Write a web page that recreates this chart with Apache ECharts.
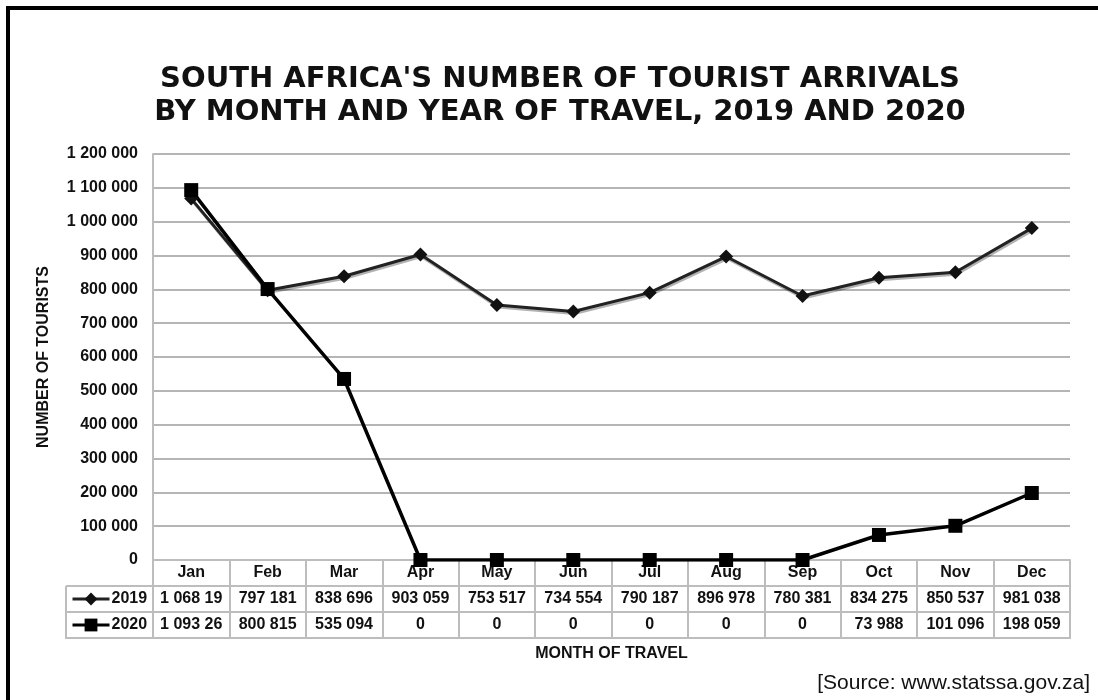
<!DOCTYPE html>
<html>
<head>
<meta charset="utf-8">
<script src="https://cdn.jsdelivr.net/npm/echarts@6/dist/echarts.min.js"></script>
<style>
  html, body { margin: 0; padding: 0; background: #fff; }
  #chart { width: 1098px; height: 700px; }
</style>
</head>
<body>
<div id="chart"></div>
<script>
// months on the x axis
var months = ["Jan", "Feb", "Mar", "Apr", "May", "Jun", "Jul", "Aug", "Sep", "Oct", "Nov", "Dec"];

// tourist arrivals
var arrivals2019 = [1068190, 797181, 838696, 903059, 753517, 734554, 790187, 896978, 780381, 834275, 850537, 981038];
var arrivals2020 = [1093260, 800815, 535094, 0, 0, 0, 0, 0, 0, 73988, 101096, 198059];

// data table text, as printed under the axis (Jan is cut off in the source)
var table2019 = ["1 068 19", "797 181", "838 696", "903 059", "753 517", "734 554", "790 187", "896 978", "780 381", "834 275", "850 537", "981 038"];
var table2020 = ["1 093 26", "800 815", "535 094", "0", "0", "0", "0", "0", "0", "73 988", "101 096", "198 059"];

// y axis tick labels
var yTicks = ["0", "100 000", "200 000", "300 000", "400 000", "500 000", "600 000",
  "700 000", "800 000", "900 000", "1 000 000", "1 100 000", "1 200 000"];

var FONT = '"Liberation Sans", Arial, sans-serif';
var GRID_L = 153, GRID_R = 1070, GRID_T = 154, GRID_B = 560;
var ROW = 26;
var TABLE_L = 66;
var cellLine = { stroke: "#bdbdbd", lineWidth: 2 };

var myChart = echarts.init(document.getElementById("chart"));

var option = {
  backgroundColor: "#fff",
  animation: false,
  title: {
    text: "SOUTH AFRICA'S NUMBER OF TOURIST ARRIVALS\nBY MONTH AND YEAR OF TRAVEL, 2019 AND 2020",
    left: 555,
    textAlign: "center",
    top: 58,
    textStyle: {
      fontFamily: '"DejaVu Sans", sans-serif',
      fontWeight: "bold",
      fontSize: 29,
      lineHeight: 33,
      color: "#111"
    }
  },
  legend: {
    orient: "vertical",
    left: 71,
    top: GRID_B + ROW + 5,
    padding: 0,
    itemGap: 10,
    itemWidth: 37,
    itemHeight: 16,
    selectedMode: false,
    data: ["2019", "2020"],
    lineStyle: { width: 3 },
    textStyle: {
      fontFamily: FONT,
      fontWeight: "bold",
      fontSize: 16,
      color: "#111",
      padding: [0, 0, 0, -3]
    }
  },
  grid: {
    left: GRID_L,
    right: 1098 - GRID_R,
    top: GRID_T,
    bottom: 700 - GRID_B,
    containLabel: false
  },
  xAxis: {
    type: "category",
    data: months,
    boundaryGap: true,
    name: "MONTH OF TRAVEL",
    nameLocation: "middle",
    nameGap: 86,
    nameTextStyle: {
      fontFamily: FONT,
      fontWeight: "bold",
      fontSize: 16,
      color: "#111"
    },
    axisLine: { lineStyle: { color: "#bdbdbd", width: 2 } },
    axisTick: {
      show: true,
      alignWithLabel: false,
      length: ROW * 3,
      lineStyle: { color: "#bdbdbd", width: 2 }
    },
    axisLabel: {
      interval: 0,
      margin: 0,
      formatter: function (value, i) {
        return "{m|" + value + "}\n{v|" + table2019[i] + "}\n{v|" + table2020[i] + "}";
      },
      rich: {
        m: { fontFamily: FONT, fontWeight: "bold", fontSize: 16, lineHeight: ROW, color: "#111" },
        v: { fontFamily: FONT, fontWeight: "bold", fontSize: 16, lineHeight: ROW, color: "#111" }
      }
    }
  },
  yAxis: {
    type: "value",
    min: 0,
    max: 1200000,
    interval: 100000,
    name: "NUMBER OF TOURISTS",
    nameLocation: "middle",
    nameGap: 101,
    nameTextStyle: {
      fontFamily: FONT,
      fontWeight: "bold",
      fontSize: 16,
      color: "#111"
    },
    axisLine: { show: true, lineStyle: { color: "#bdbdbd", width: 2 } },
    axisTick: { show: false },
    splitLine: { lineStyle: { color: "#b5b5b5", width: 2 } },
    axisLabel: {
      margin: 15,
      fontFamily: FONT,
      fontWeight: "bold",
      fontSize: 16,
      color: "#111",
      formatter: function (v) {
        return yTicks[Math.round(v / 100000)];
      }
    }
  },
  series: [
    {
      name: "2019",
      type: "line",
      data: arrivals2019,
      symbol: "diamond",
      symbolSize: 14,
      itemStyle: { color: "#111" },
      lineStyle: {
        color: "#222",
        width: 3,
        shadowColor: "rgba(0,0,0,0.3)",
        shadowOffsetX: 1,
        shadowOffsetY: 2
      }
    },
    {
      name: "2020",
      type: "line",
      data: arrivals2020,
      symbol: "rect",
      symbolSize: 14,
      itemStyle: { color: "#000" },
      lineStyle: { color: "#000", width: 3.5 }
    }
  ],
  graphic: [
    // outer frame (top and left edges)
    { type: "line", shape: { x1: 6, y1: 8, x2: 1098, y2: 8 }, style: { stroke: "#000", lineWidth: 4 } },
    { type: "line", shape: { x1: 8, y1: 6, x2: 8, y2: 700 }, style: { stroke: "#000", lineWidth: 4 } },
    // data table rules
    { type: "line", shape: { x1: TABLE_L, y1: GRID_B + ROW, x2: GRID_R, y2: GRID_B + ROW }, style: cellLine },
    { type: "line", shape: { x1: TABLE_L, y1: GRID_B + ROW * 2, x2: GRID_R, y2: GRID_B + ROW * 2 }, style: cellLine },
    { type: "line", shape: { x1: TABLE_L - 1, y1: GRID_B + ROW * 3, x2: GRID_R + 1, y2: GRID_B + ROW * 3 }, style: cellLine },
    { type: "line", shape: { x1: TABLE_L, y1: GRID_B + ROW, x2: TABLE_L, y2: GRID_B + ROW * 3 }, style: cellLine },
    // source note
    {
      type: "text",
      right: 8,
      top: 673,
      style: {
        text: "[Source: www.statssa.gov.za]",
        font: "21px " + FONT,
        fill: "#111"
      }
    }
  ]
};

myChart.setOption(option);
</script>
</body>
</html>
